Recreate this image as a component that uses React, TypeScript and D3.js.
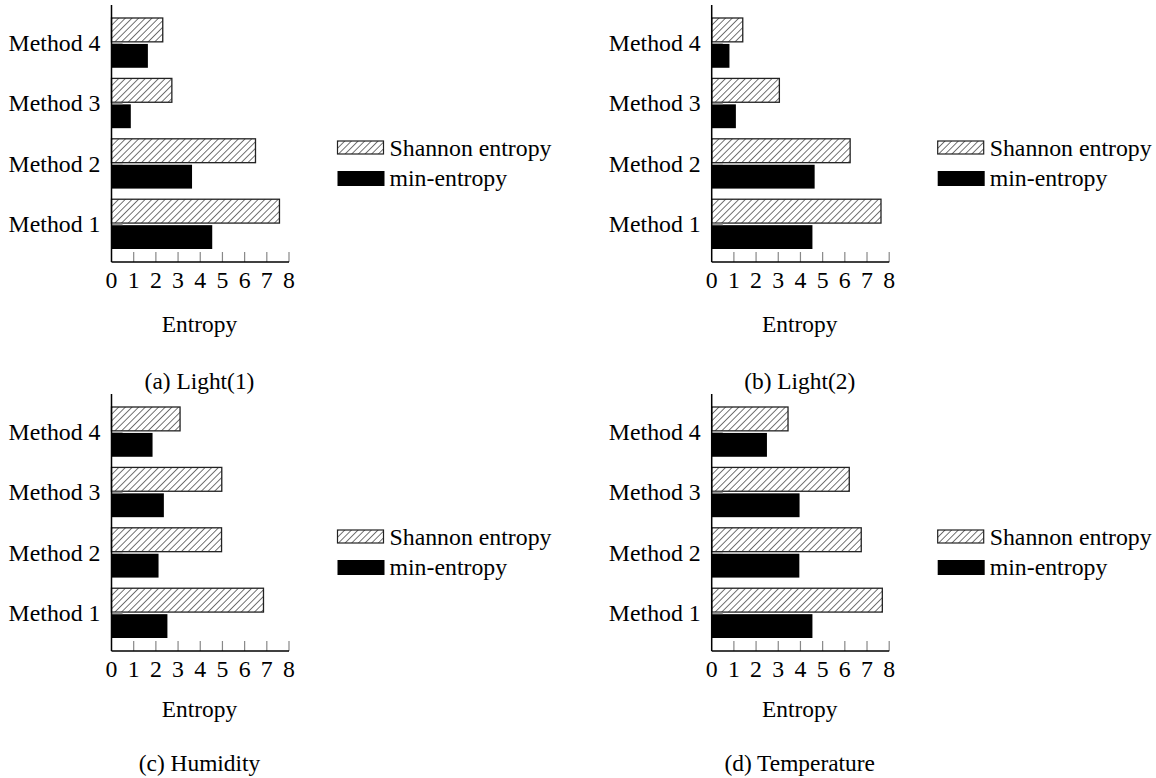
import React from 'react';
import * as d3 from 'd3';

// categories (top to bottom on screen: Method 4 ... Method 1)
const methods = ['Method 1', 'Method 2', 'Method 3', 'Method 4'];
const seriesKeys = ['shannon', 'min'];
const ticks = [0, 1, 2, 3, 4, 5, 6, 7, 8];

// values
const shannonLight1 = [7.57, 6.49, 2.72, 2.31];
const minLight1 = [4.54, 3.63, 0.87, 1.64];
const shannonLight2 = [7.63, 6.24, 3.05, 1.4];
const minLight2 = [4.54, 4.64, 1.09, 0.8];
const shannonHumidity = [6.85, 4.96, 4.97, 3.09];
const minHumidity = [2.52, 2.12, 2.36, 1.85];
const shannonTemp = [7.69, 6.74, 6.2, 3.44];
const minTemp = [4.54, 3.95, 3.96, 2.49];
// small grey stub visible at the left of every group
const stubValues = [0.5, 0.5, 0.5, 0.5];

const FONT = '"Liberation Serif", "Times New Roman", serif';
const FS = 23.8;
const plotH = 257;
const plotW = 177.5;

const panels = [
  { key: 'a', caption: '(a) Light(1)', shannon: shannonLight1, min: minLight1, left: 111.5, top: 5, labelDy: 327, capDy: 384 },
  { key: 'b', caption: '(b) Light(2)', shannon: shannonLight2, min: minLight2, left: 711.7, top: 5, labelDy: 327, capDy: 384 },
  { key: 'c', caption: '(c) Humidity', shannon: shannonHumidity, min: minHumidity, left: 111.5, top: 394, labelDy: 323, capDy: 377 },
  { key: 'd', caption: '(d) Temperature', shannon: shannonTemp, min: minTemp, left: 711.7, top: 394, labelDy: 323, capDy: 377 },
];

const x = d3.scaleLinear().domain([0, 8]).range([0, plotW]);
const y = d3.scaleBand<string>()
  .domain([...methods].reverse())
  .range([13, 244])
  .paddingInner(0.176)
  .paddingOuter(0);
const ySub = d3.scaleBand<string>()
  .domain(seriesKeys)
  .range([0, y.bandwidth()])
  .paddingInner(0.08);

const Panel = ({ p }: { p: typeof panels[number] }) => {
  const values: Record<string, number[]> = { shannon: p.shannon, min: p.min };
  return (
    <g transform={`translate(${p.left},${p.top})`}>
      {methods.map((m, i) => (
        <g key={m} transform={`translate(0,${y(m)})`}>
          {seriesKeys.map(s => (
            <rect
              key={s}
              x={0}
              y={ySub(s)}
              width={x(values[s][i]) - x(0)}
              height={ySub.bandwidth()}
              fill={s === 'shannon' ? 'url(#hatch)' : '#000'}
              stroke={s === 'shannon' ? '#222' : 'none'}
              strokeWidth={1.3}
            />
          ))}
          <rect
            x={0}
            y={(ySub('min') as number) - 1.6}
            width={x(stubValues[i]) - x(0)}
            height={1.6}
            fill="#999"
          />
          <text
            x={-11}
            y={y.bandwidth() / 2}
            dy="0.34em"
            textAnchor="end"
            fontSize={FS}
            fontFamily={FONT}
          >
            {m}
          </text>
        </g>
      ))}

      {/* x ticks */}
      {ticks.map(t => (
        <g key={t} transform={`translate(${x(t)},${plotH})`}>
          {t > 0 && <line y1={0} y2={-10} stroke="#888" strokeWidth={1.2} />}
          <text y={26} textAnchor="middle" fontSize={FS} fontFamily={FONT}>{t}</text>
        </g>
      ))}

      {/* axes */}
      <line x1={0} x2={0} y1={0} y2={plotH} stroke="#000" strokeWidth={1.5} />
      <line x1={0} x2={plotW} y1={plotH} y2={plotH} stroke="#000" strokeWidth={1.5} />

      <text x={88} y={p.labelDy} textAnchor="middle" fontSize={23.4} fontFamily={FONT}>Entropy</text>
      <text x={88} y={p.capDy} textAnchor="middle" fontSize={23.4} fontFamily={FONT}>{p.caption}</text>

      {/* legend */}
      <g transform="translate(226,136)">
        <rect x={0} y={0} width={46} height={13} fill="url(#hatch)" stroke="#222" strokeWidth={1.2} />
        <text x={52} y={15} fontSize={FS} fontFamily={FONT}>Shannon entropy</text>
        <rect x={0} y={30} width={47} height={15} fill="#000" />
        <text x={52} y={45} fontSize={FS} fontFamily={FONT}>min-entropy</text>
      </g>
    </g>
  );
};

export default function App() {
  return (
    <svg width={1156} height={778} style={{ position: 'absolute', left: 0, top: 0, background: '#fff' }}>
      <defs>
        <pattern id="hatch" patternUnits="userSpaceOnUse" width={4.7} height={4.7} patternTransform="rotate(45)">
          <rect width={4.7} height={4.7} fill="#fff" />
          <line x1={0} y1={0} x2={0} y2={4.7} stroke="#000" strokeWidth={1.1} />
        </pattern>
      </defs>
      {panels.map(p => <Panel key={p.key} p={p} />)}
    </svg>
  );
}
